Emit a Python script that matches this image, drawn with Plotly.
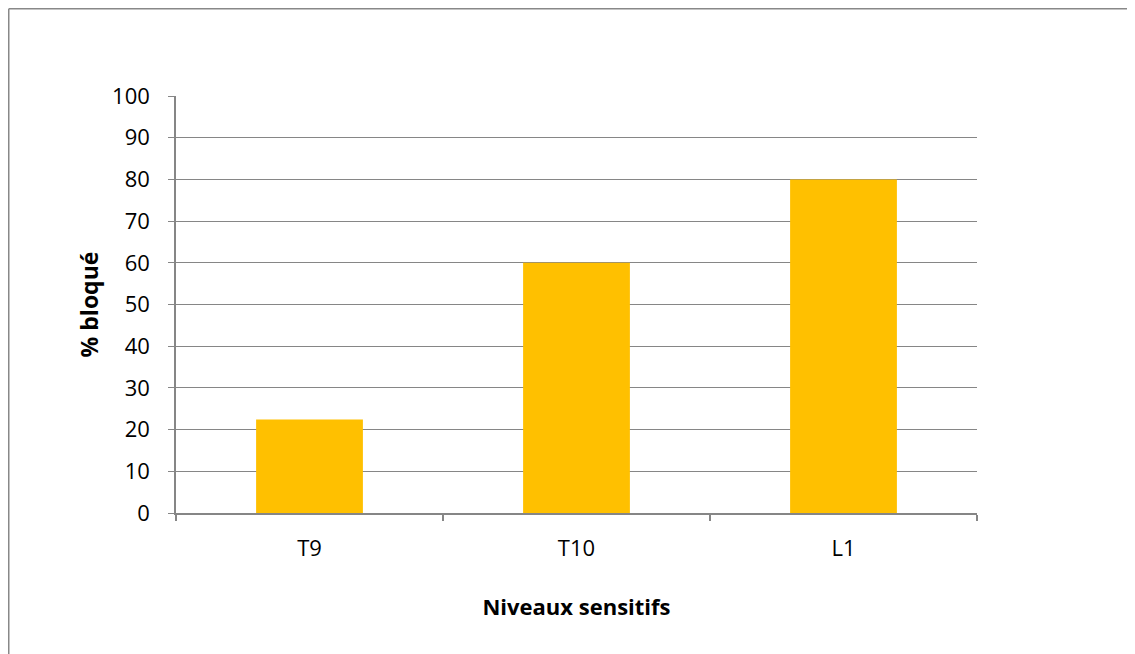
import plotly.graph_objects as go

categories = ["T9", "T10", "L1"]
values = [22.4, 60, 80]
y_ticks = list(range(0, 101, 10))

W, H = 1127, 646
# plot-area edges in figure pixels (page adds an 8px body offset)
L, R, T, B = 168, 969, 88, 505
pw, ph = R - L, B - T

fig = go.Figure(go.Bar(x=categories, y=values, marker=dict(color="#FFC000", line=dict(width=0))))

font = "Open Sans, Liberation Sans, sans-serif"
fig.update_layout(
    width=W, height=H,
    margin=dict(l=L, r=W - R, t=T, b=H - B, pad=0),
    paper_bgcolor="white", plot_bgcolor="white",
    bargap=0.6,
    showlegend=False,
    font=dict(family=font, color="#000000", size=22),
)
fig.update_yaxes(
    range=[0, 100], tickvals=y_ticks, ticktext=[str(v) for v in y_ticks],
    showgrid=True, gridcolor="#868686", gridwidth=1,
    showline=True, linecolor="#868686", linewidth=1.5,
    ticks="outside", ticklen=6, tickcolor="#868686", tickwidth=1,
    ticklabelstandoff=14,
    tickfont=dict(size=22),
    zeroline=False,
    title=dict(text="<b>% bloqué</b>", font=dict(size=23), standoff=7),
)
fig.update_xaxes(
    showline=True, linecolor="#868686", linewidth=1.5,
    ticks="outside", ticklen=6, tickcolor="#868686", tickwidth=1.5,
    tickson="boundaries",
    tickfont=dict(size=22),
    ticklabelstandoff=15,
    title=dict(text="<b>Niveaux sensitifs</b>", font=dict(size=22), standoff=38),
)
# outer chart-area border: only its top and left edges fall inside the page
x_left = (0.75 - L) / pw
y_top = (B - 0.75) / ph
border = dict(color="#888888", width=1.5)
fig.add_shape(type="line", xref="paper", yref="paper",
              x0=x_left, x1=(W - L) / pw, y0=y_top, y1=y_top, line=border, layer="below")
fig.add_shape(type="line", xref="paper", yref="paper",
              x0=x_left, x1=x_left, y0=(B - H) / ph, y1=y_top, line=border, layer="below")
fig.write_html("out.html")
